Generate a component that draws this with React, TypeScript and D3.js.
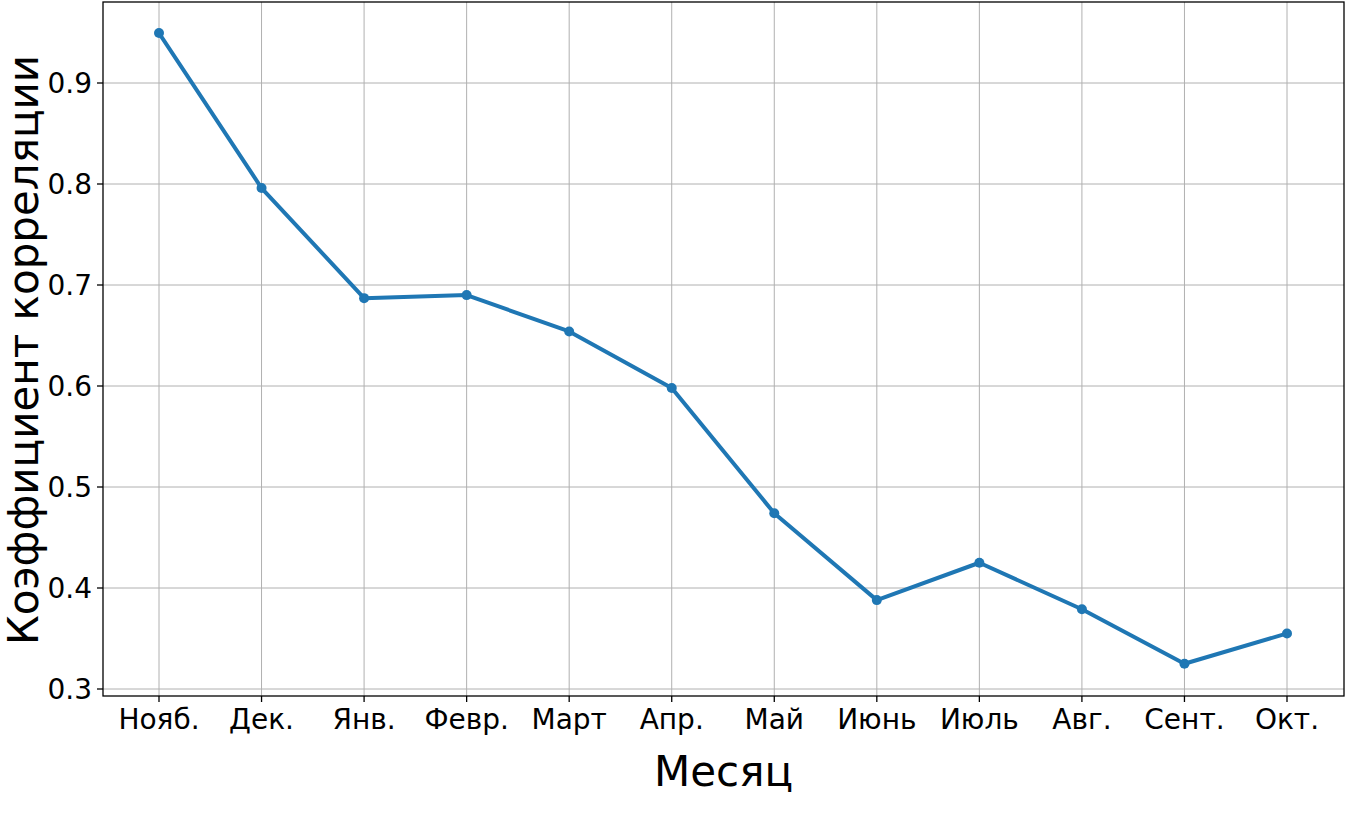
import React from "react";
import * as d3 from "d3";

const months = ["Нояб.", "Дек.", "Янв.", "Февр.", "Март", "Апр.", "Май", "Июнь", "Июль", "Авг.", "Сент.", "Окт."];
const values = [0.9495, 0.796, 0.687, 0.690, 0.654, 0.598, 0.474, 0.388, 0.425, 0.379, 0.325, 0.355];
const yTicks = [0.3, 0.4, 0.5, 0.6, 0.7, 0.8, 0.9];

const W = 1347, H = 827;
const left = 103, right = 1344, top = 2, bottom = 696;
const font = "DejaVu Sans, sans-serif";

export default function App() {
  const x = d3.scalePoint<string>().domain(months).range([159, 1287]);
  const y = d3.scaleLinear().domain([0.3, 0.9]).range([689, 83]);
  const line = d3.line<number>().x((_, i) => x(months[i])!).y(d => y(d));
  return (
    <svg width={W} height={H} style={{ position: "absolute", left: 0, top: 0 }}>
      <rect width={W} height={H} fill="white" />
      {months.map(m => (
        <line key={"gx" + m} x1={x(m)} x2={x(m)} y1={top} y2={bottom} stroke="#b0b0b0" strokeWidth={1} />
      ))}
      {yTicks.map(t => (
        <line key={"gy" + t} x1={left} x2={right} y1={y(t)} y2={y(t)} stroke="#b0b0b0" strokeWidth={1} />
      ))}
      <path d={line(values)!} fill="none" stroke="#1f77b4" strokeWidth={4} strokeLinejoin="round" strokeLinecap="square" />
      {values.map((v, i) => (
        <circle key={i} cx={x(months[i])} cy={y(v)} r={5} fill="#1f77b4" />
      ))}
      <rect x={left} y={top} width={right - left} height={bottom - top} fill="none" stroke="black" strokeWidth={1.3} />
      {yTicks.map(t => (
        <g key={"ty" + t}>
          <line x1={left - 6} x2={left} y1={y(t)} y2={y(t)} stroke="black" strokeWidth={1.3} />
          <text x={left - 11} y={y(t)} dy="0.36em" textAnchor="end" fontFamily={font} fontSize={28} fill="black">{t.toFixed(1)}</text>
        </g>
      ))}
      {months.map(m => (
        <g key={"tx" + m}>
          <line x1={x(m)} x2={x(m)} y1={bottom} y2={bottom + 6} stroke="black" strokeWidth={1.3} />
          <text x={x(m)} y={bottom + 33} textAnchor="middle" fontFamily={font} fontSize={28} fill="black">{m}</text>
        </g>
      ))}
      <text x={(left + right) / 2} y={786} textAnchor="middle" fontFamily={font} fontSize={42} fill="black">Месяц</text>
      <text transform={`translate(38, ${(top + bottom) / 2 + 1}) rotate(-90)`} textAnchor="middle" fontFamily={font} fontSize={42} fill="black">Коэффициент корреляции</text>
    </svg>
  );
}
